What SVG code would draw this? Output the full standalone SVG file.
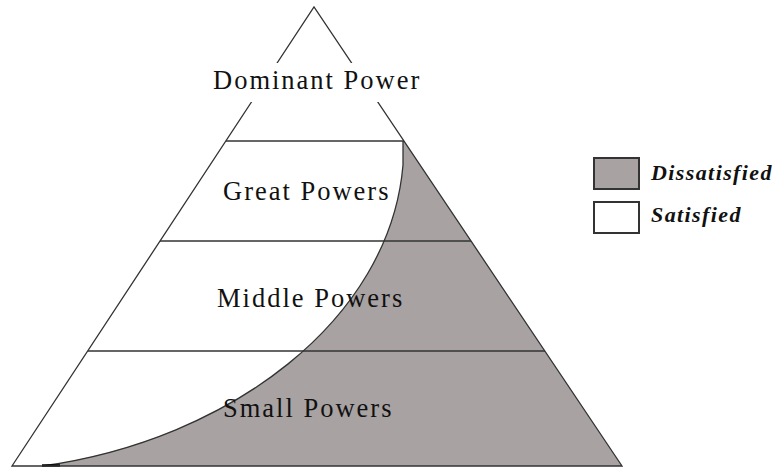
<svg xmlns="http://www.w3.org/2000/svg" width="777" height="468" viewBox="0 0 777 468">
<style>
.edge{fill:none;stroke:#333;stroke-width:1.3}
.tier{fill:none;stroke:#333;stroke-width:1.6}
.lbl{font-family:"Liberation Serif","Times New Roman",serif;font-size:26.5px;letter-spacing:2px;fill:#111}
.leg{font-family:"Liberation Serif","Times New Roman",serif;font-size:22px;font-weight:bold;font-style:italic;letter-spacing:1.4px;fill:#111}
.box{stroke:#333;stroke-width:2}
</style>
<rect width="777" height="468" fill="#fff"/>
<g id="pyramid">
<path id="dissatisfied" d="M403,141 L404,141 L471,241 L545,351 L622,466 L42,466 C230,440 390,320 403,165 Z" fill="#a8a2a2" stroke="none"/>
<path class="edge" d="M403,141 L403,165 C390,320 230,440 42,466"/>
<line x1="42" y1="465.5" x2="60" y2="465.5" stroke="#000" stroke-width="2.5"/>
<path class="edge" d="M12,466 L314,7 L622,466 Z"/>
</g>
<g id="tiers">
<line class="tier" x1="226" y1="141" x2="404" y2="141"/>
<line class="tier" x1="160" y1="241" x2="471" y2="241"/>
<line class="tier" x1="88" y1="351" x2="545" y2="351"/>
</g>
<g id="dominant-power">
<rect x="200" y="63" width="230" height="39" fill="#fff"/>
<text class="lbl" x="213" y="89">Dominant Power</text>
</g>
<g id="great-powers"><text class="lbl" x="223" y="200">Great Powers</text></g>
<g id="middle-powers"><text class="lbl" x="217" y="306.5">Middle Powers</text></g>
<g id="small-powers"><text class="lbl" x="223" y="416.5">Small Powers</text></g>
<g id="legend-dissatisfied">
<rect class="box" x="594" y="158" width="45" height="31" fill="#a8a2a2"/>
<text class="leg" x="651" y="180">Dissatisfied</text>
</g>
<g id="legend-satisfied">
<rect class="box" x="594" y="202" width="45" height="31" fill="#fff"/>
<text class="leg" x="651" y="222">Satisfied</text>
</g>
</svg>
